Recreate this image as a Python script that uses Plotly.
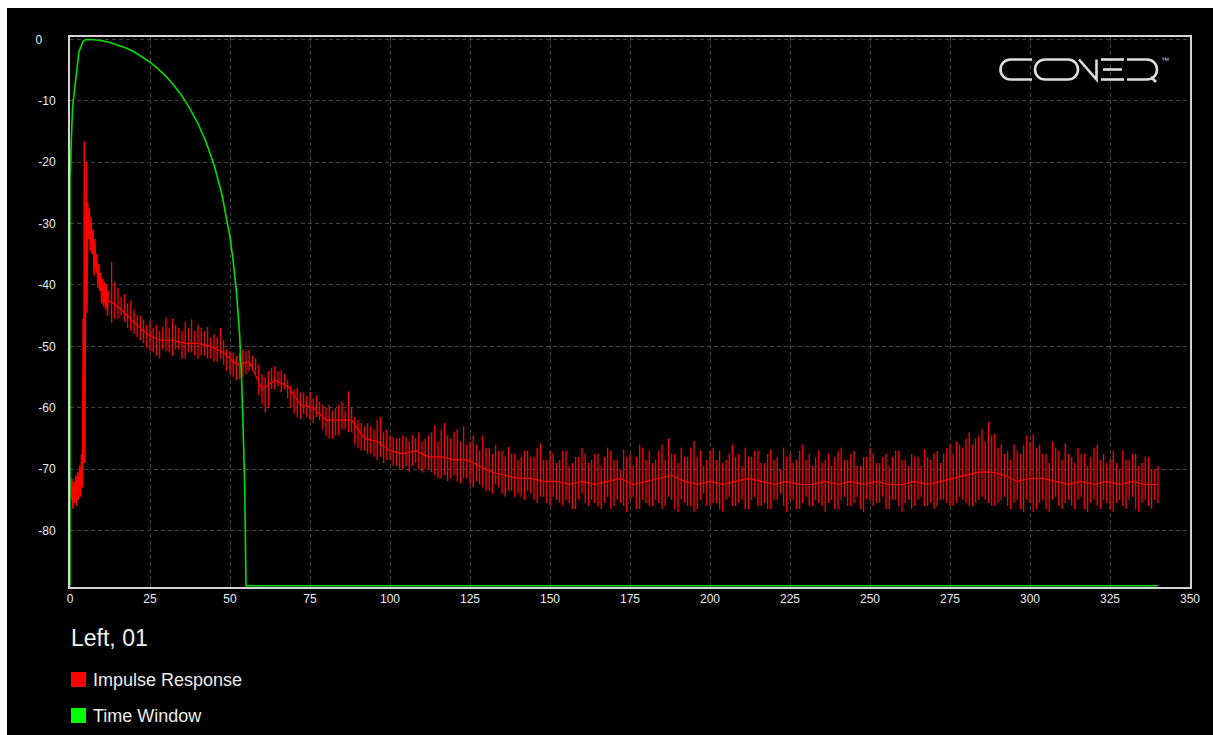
import plotly.graph_objects as go

# ---- Time window (green), time in ms / level in dB ----
window_ms = [0.0, 0.0, 0.8, 2.0, 2.8, 4.1, 5.0, 7.5, 10.0, 12.5, 15.0, 17.5, 20.0, 22.5,
             25.0, 27.5, 30.0, 32.5, 35.0, 37.5, 40.0, 42.5, 45.0, 47.5, 50.0, 51.0,
             52.0, 53.0, 53.6, 54.2, 54.6, 55.0, 340.0]
window_db = [-89.0, -22.5, -11.0, -5.4, -2.0, -0.3, 0.0, -0.05, -0.2, -0.5, -0.9, -1.4,
             -2.0, -2.8, -3.7, -4.8, -6.0, -7.5, -9.2, -11.3, -13.7, -16.7, -20.4, -25.3,
             -32.2, -36.1, -41.0, -48.0, -55.0, -65.0, -73.0, -89.0, -89.0]

# ---- Impulse response (red): onset region, explicit sample times ----
onset_ms = [0.0, 0.3, 0.6, 0.9, 1.2, 1.5, 1.8, 2.1, 2.4, 2.7, 3.0, 3.3, 3.6, 3.9, 4.1, 4.3,
            4.45, 4.65, 4.85, 5.2, 5.35, 5.55, 5.8, 6.05, 6.3, 6.6, 6.9, 7.2, 7.5, 7.8,
            8.1, 8.4, 8.7, 9.0, 9.3, 9.6, 9.9, 10.2, 10.5, 10.8, 11.1, 11.4, 11.7, 12.0]
onset_db = [-70.5, -75.0, -71.5, -76.5, -72.0, -75.5, -71.0, -76.0, -70.5, -75.0, -69.5,
            -74.5, -67.5, -73.0, -45.5, -69.0, -16.6, -69.0, -44.0, -20.0, -44.5, -26.5,
            -32.5, -27.5, -34.5, -29.0, -35.0, -31.0, -38.5, -32.5, -38.0, -35.0, -40.5,
            -36.5, -41.0, -38.0, -43.0, -39.0, -43.5, -39.5, -44.0, -40.0, -45.0, -41.0]

# ---- Impulse response tail: per-ms peak (hi) and trough (lo), 13 ms .. 340 ms ----
tail_start_ms = 13
tail_hi_db = [
    -36.2, -39.5, -40.5, -42.0, -41.5, -43.0, -42.5, -44.0, -44.9, -45.0,   # 13-22
    -45.6, -46.5, -45.8, -47.0, -46.5, -47.5, -46.8, -45.3, -47.0, -45.5,   # 23-32
    -46.5, -47.0, -47.5, -46.0, -47.0, -45.6, -47.5, -46.5, -47.0, -47.5,   # 33-42
    -46.8, -48.5, -48.0, -48.5, -47.0, -49.0, -50.5, -50.8, -51.0, -51.5,   # 43-52
    -51.0, -50.5, -50.8, -50.5, -51.5, -52.0, -53.0, -54.5, -55.0, -54.0,   # 53-62
    -53.5, -53.2, -54.0, -53.8, -54.5, -55.5, -56.4, -57.0, -56.8, -57.5,   # 63-72
    -57.5, -58.0, -57.4, -58.5, -58.0, -59.0, -59.5, -60.0, -59.5, -60.5,   # 73-82
    -60.0, -59.5, -59.0, -60.5, -57.3, -60.0, -61.5, -62.0, -62.5, -63.0,   # 83-92
    -62.5, -63.0, -63.5, -62.0, -61.5, -64.0, -63.5, -64.5, -64.8, -65.0,   # 93-102
    -65.0, -64.5, -64.8, -65.5, -64.5, -65.0, -64.0, -65.5, -65.0, -64.5,   # 103-112
    -64.0, -62.8, -65.5, -63.5, -62.5, -64.5, -65.0, -64.0, -63.5, -65.5,   # 113-122
    -63.0, -66.0, -65.5, -64.5, -66.0, -67.0, -64.5, -66.5, -66.5, -67.5,   # 123-132
    -66.0, -67.0, -67.0, -68.0, -66.4, -67.5, -67.5, -68.5, -68.0, -67.0,   # 133-142
    -67.0, -68.0, -68.0, -66.5, -65.8, -68.5, -68.5, -67.0, -67.5, -69.0,   # 143-152
    -68.5, -67.0, -67.0, -69.5, -69.0, -68.0, -68.0, -66.5, -67.5, -69.0,   # 153-162
    -68.5, -67.5, -67.5, -69.5, -68.0, -66.5, -67.0, -68.5, -68.5, -70.0,   # 163-172
    -66.8, -68.0, -67.5, -69.5, -68.0, -66.0, -66.5, -68.5, -67.0, -69.0,   # 173-182
    -68.5, -67.0, -66.0, -68.5, -65.0, -67.5, -67.5, -69.0, -66.5, -68.0,   # 183-192
    -68.0, -66.5, -65.4, -68.0, -67.0, -69.5, -68.5, -67.0, -66.5, -68.5,   # 193-202
    -67.0, -69.0, -68.5, -67.5, -66.0, -68.0, -67.5, -69.5, -66.5, -68.0,   # 203-212
    -68.0, -67.0, -67.0, -69.0, -69.0, -67.5, -66.8, -68.5, -68.0, -70.0,   # 213-222
    -66.5, -68.0, -67.5, -69.0, -68.5, -67.0, -66.0, -68.5, -67.5, -69.5,   # 223-232
    -68.0, -67.0, -69.0, -68.5, -67.5, -69.5, -68.0, -67.0, -66.5, -68.5,   # 233-242
    -68.5, -67.5, -67.0, -69.5, -69.5, -68.0, -68.0, -66.5, -67.5, -69.0,   # 243-252
    -69.0, -68.0, -67.5, -69.5, -68.0, -67.0, -67.0, -68.5, -68.5, -69.5,   # 253-262
    -67.5, -68.0, -68.0, -69.5, -66.8, -68.0, -68.5, -67.5, -67.0, -69.0,   # 263-272
    -67.5, -66.5, -66.0, -67.5, -65.5, -66.0, -66.5, -65.0, -64.0, -66.0,   # 273-282
    -65.0, -64.5, -63.5, -65.5, -62.3, -64.5, -64.2, -66.5, -66.0, -67.5,   # 283-292
    -67.0, -68.5, -66.0, -67.0, -67.5, -66.0, -64.5, -65.5, -64.3, -66.5,   # 293-302
    -66.0, -67.5, -67.5, -69.0, -65.5, -66.5, -67.0, -68.5, -65.8, -67.5,   # 303-312
    -68.0, -69.0, -66.5, -67.5, -67.5, -69.5, -68.0, -66.5, -66.0, -68.5,   # 313-322
    -67.5, -69.0, -68.5, -67.0, -69.0, -70.0, -67.0, -68.5, -68.5, -67.5,   # 323-332
    -67.5, -69.5, -69.0, -68.0, -68.0, -70.0, -70.0, -69.5,                 # 333-340
]
tail_lo_db = [
    -46.2, -45.5, -45.5, -45.0, -46.0, -47.0, -47.5, -48.0, -48.5, -49.0,   # 13-22
    -49.5, -50.3, -50.8, -51.0, -51.5, -52.0, -50.5, -50.8, -51.0, -51.5,   # 23-32
    -50.5, -50.5, -52.0, -52.0, -51.0, -51.0, -51.5, -52.0, -51.5, -51.5,   # 33-42
    -52.0, -52.0, -52.5, -52.5, -52.0, -53.0, -54.0, -54.5, -55.0, -55.5,   # 43-52
    -55.3, -55.0, -54.5, -54.0, -54.0, -54.5, -58.0, -59.5, -60.8, -60.0,   # 53-62
    -57.0, -57.0, -56.5, -57.5, -57.0, -58.5, -60.0, -61.0, -61.5, -61.8,   # 63-72
    -61.0, -61.5, -62.0, -62.5, -61.5, -62.0, -63.5, -64.5, -65.0, -65.0,   # 73-82
    -64.5, -64.5, -63.5, -63.5, -64.0, -64.0, -66.0, -66.5, -67.0, -67.0,   # 83-92
    -67.5, -67.5, -68.0, -68.5, -68.0, -69.0, -68.5, -68.5, -69.5, -69.5,   # 93-102
    -70.0, -70.0, -69.5, -70.5, -69.5, -69.0, -70.0, -70.6, -70.0, -70.0,   # 103-112
    -70.5, -71.0, -71.5, -71.5, -71.0, -72.0, -71.5, -71.0, -72.0, -72.3,   # 113-122
    -71.5, -71.5, -72.5, -73.0, -72.0, -72.5, -73.0, -73.5, -73.5, -74.0,   # 123-132
    -72.5, -73.0, -74.0, -74.5, -73.5, -73.5, -74.5, -74.0, -74.5, -75.0,   # 133-142
    -73.5, -74.0, -75.0, -75.5, -74.5, -74.5, -75.5, -76.0, -74.5, -75.0,   # 143-152
    -75.5, -76.0, -75.0, -75.5, -76.5, -76.5, -75.0, -74.0, -75.5, -76.0,   # 153-162
    -75.0, -75.5, -76.0, -76.5, -75.5, -74.5, -76.5, -76.0, -75.0, -75.5,   # 163-172
    -76.0, -77.0, -75.0, -74.5, -76.5, -76.5, -75.0, -75.5, -76.0, -76.0,   # 173-182
    -75.0, -75.5, -76.5, -76.0, -74.5, -75.0, -76.5, -77.0, -75.0, -75.5,   # 183-192
    -76.0, -76.0, -77.0, -76.5, -75.0, -74.0, -76.0, -76.0, -75.5, -75.5,   # 193-202
    -76.5, -77.0, -75.0, -74.5, -76.0, -76.0, -75.5, -75.0, -76.5, -76.5,   # 203-212
    -75.0, -74.5, -76.0, -76.0, -75.5, -76.5, -76.5, -75.0, -75.0, -74.0,   # 213-222
    -76.0, -77.0, -75.0, -75.0, -76.5, -76.5, -75.5, -74.5, -76.0, -76.0,   # 223-232
    -75.0, -75.5, -76.0, -77.0, -75.5, -75.0, -76.5, -76.5, -75.0, -74.5,   # 233-242
    -76.0, -76.0, -75.5, -74.5, -76.5, -77.0, -75.0, -75.0, -76.0, -75.5,   # 243-252
    -75.5, -74.5, -76.5, -76.5, -75.0, -75.0, -76.0, -77.0, -75.5, -75.0,   # 253-262
    -76.5, -76.0, -75.0, -74.5, -76.0, -76.0, -75.5, -76.5, -76.0, -75.0,   # 263-272
    -75.0, -75.5, -76.0, -76.0, -75.5, -74.5, -75.0, -75.5, -76.0, -76.0,   # 273-282
    -75.5, -75.0, -74.5, -75.0, -75.5, -76.0, -76.0, -75.5, -75.0, -74.5,   # 283-292
    -76.0, -76.5, -75.5, -75.0, -76.5, -77.0, -75.0, -75.5, -77.0, -76.5,   # 293-302
    -75.5, -75.0, -76.5, -77.0, -75.0, -74.5, -76.0, -76.5, -75.5, -75.0,   # 303-312
    -76.0, -76.5, -75.0, -74.5, -76.5, -77.0, -75.5, -75.0, -76.0, -76.5,   # 313-322
    -75.0, -75.5, -76.5, -77.0, -75.5, -75.0, -76.0, -76.5, -75.0, -74.5,   # 323-332
    -76.5, -77.0, -75.5, -75.0, -76.0, -76.5, -75.0, -75.5,                 # 333-340
]

# running level through the middle of the tail, every 4 ms from 12 ms
center_start_ms = 12
center_step_ms = 4
center_db = [
    -42.5, -44.0, -46.0, -48.0, -49.0, -49.0, -49.5, -49.5, -50.0, -51.0,
    -53.0, -52.5, -57.0, -55.5, -56.5, -59.5, -60.0, -62.0, -62.0, -62.0,
    -65.0, -65.5, -67.0, -67.5, -67.0, -68.0, -68.0, -68.5, -68.5, -69.5,
    -70.5, -71.0, -71.5, -71.5, -72.0, -72.0, -72.5, -72.0, -72.5, -72.0,
    -71.5, -72.5, -72.0, -71.5, -71.0, -72.0, -72.5, -72.0, -72.5, -72.0,
    -71.5, -72.0, -72.5, -72.0, -72.5, -72.5, -72.0, -72.5, -72.0, -72.5,
    -72.0, -72.5, -72.5, -72.0, -72.5, -72.0, -71.5, -71.0, -70.5, -70.5,
    -71.0, -72.0, -71.5, -71.5, -72.0, -72.5, -72.0, -72.5, -72.0, -72.5,
    -72.0, -72.5, -72.5,
]

# Axis ticks
x_ticks = [0, 25, 50, 75, 100, 125, 150, 175, 200, 225, 250, 275, 300, 325, 350]
y_ticks = [-80, -70, -60, -50, -40, -30, -20, -10, 0]
y_ticktext = ["-80", "-70", "-60", "-50", "-40", "-30", "-20", "-10", "0\u2007\u2007"]

# vertical peak-to-trough strokes, one per ms
stroke_x, stroke_y = [], []
for i, (hi, lo) in enumerate(zip(tail_hi_db, tail_lo_db)):
    t = tail_start_ms + i
    stroke_x += [t, t, None]
    stroke_y += [lo, hi, None]
center_ms = [center_start_ms + center_step_ms * i for i in range(len(center_db))]

# ---- page geometry (pixels) ----
W, H = 1213, 735
ML, MR, MT, MB = 70, 23, 37, 148
PW, PH = W - ML - MR, H - MT - MB


def px(x):
    return (x - ML) / PW


def py(y):
    return (MT + PH - y) / PH


def pt(x, y):
    return f"{px(x):.5f},{py(y):.5f}"


RED = "#ff0000"
fig = go.Figure()

fig.add_trace(go.Scatter(
    x=onset_ms, y=onset_db, mode="lines", name="Impulse Response",
    line=dict(color=RED, width=1.4), showlegend=False,
))
fig.add_trace(go.Scatter(
    x=stroke_x, y=stroke_y, mode="lines", name="Impulse Response",
    line=dict(color=RED, width=1.3), connectgaps=False, showlegend=False,
))
fig.add_trace(go.Scatter(
    x=center_ms, y=center_db, mode="lines", name="Impulse Response",
    line=dict(color=RED, width=1.2), showlegend=False,
))
fig.add_trace(go.Scatter(
    x=window_ms, y=window_db, mode="lines", name="Time Window",
    line=dict(color="#00e000", width=1.6), showlegend=False,
))

shapes = []
# black canvas leaving a thin white border at left and top
shapes.append(dict(type="rect", xref="paper", yref="paper",
                   x0=px(7), x1=px(W), y0=py(H), y1=py(8),
                   fillcolor="#000000", line=dict(width=0), layer="below"))

# CONEQ logo drawn as strokes
k = 0.5523
logo_line = dict(color="#dedede", width=2.6)
top, bot, mid, r = 59.5, 79.5, 69.5, 10.0


def left_round(xc):
    return (f" C {pt(xc - k * r, top)} {pt(xc - r, mid - k * r)} {pt(xc - r, mid)}"
            f" C {pt(xc - r, mid + k * r)} {pt(xc - k * r, bot)} {pt(xc, bot)}")


def right_round(xc):
    return (f" C {pt(xc + k * r, top)} {pt(xc + r, mid - k * r)} {pt(xc + r, mid)}"
            f" C {pt(xc + r, mid + k * r)} {pt(xc + k * r, bot)} {pt(xc, bot)}")


paths = []
paths.append(f"M {pt(1032, top)} L {pt(1010.5, top)}" + left_round(1010.5) + f" L {pt(1032, bot)}")
paths.append(f"M {pt(1045, top)} L {pt(1068, top)}" + right_round(1068) + f" L {pt(1045, bot)}"
             + f" C {pt(1045 - k * r, bot)} {pt(1035, mid + k * r)} {pt(1035, mid)}"
             + f" C {pt(1035, mid - k * r)} {pt(1045 - k * r, top)} {pt(1045, top)} Z")
paths.append(f"M {pt(1079, top)} L {pt(1096.5, bot)} L {pt(1096.5, top)}")
paths.append(f"M {pt(1101, top)} L {pt(1124, top)}")
paths.append(f"M {pt(1103, mid)} L {pt(1122, mid)}")
paths.append(f"M {pt(1101, bot)} L {pt(1124, bot)}")
paths.append(f"M {pt(1127, top)} L {pt(1147, top)}" + right_round(1147) + f" L {pt(1127, bot)}")
paths.append(f"M {pt(1151, 77)} L {pt(1156, 82)}")
for p in paths:
    shapes.append(dict(type="path", xref="paper", yref="paper", path=p, line=logo_line))

# legend swatches
shapes.append(dict(type="rect", xref="paper", yref="paper",
                   x0=px(71), x1=px(86), y0=py(687), y1=py(672),
                   fillcolor="#ff0000", line=dict(width=0)))
shapes.append(dict(type="rect", xref="paper", yref="paper",
                   x0=px(71), x1=px(86), y0=py(723), y1=py(708),
                   fillcolor="#00ff00", line=dict(width=0)))

font_family = "Liberation Sans, Arial, sans-serif"
annotations = [
    dict(text="Left, 01", x=px(69), y=py(638), xref="paper", yref="paper",
         xanchor="left", yanchor="middle", showarrow=False,
         font=dict(family=font_family, size=23, color="#f2f2f2")),
    dict(text="Impulse Response", x=px(91), y=py(680), xref="paper", yref="paper",
         xanchor="left", yanchor="middle", showarrow=False,
         font=dict(family=font_family, size=18, color="#ececec")),
    dict(text="Time Window", x=px(91), y=py(716), xref="paper", yref="paper",
         xanchor="left", yanchor="middle", showarrow=False,
         font=dict(family=font_family, size=18, color="#ececec")),
    dict(text="™", x=px(1159), y=py(61), xref="paper", yref="paper",
         xanchor="left", yanchor="middle", showarrow=False,
         font=dict(family=font_family, size=8, color="#cfcfcf")),
]

axis_common = dict(
    showgrid=True, gridcolor="#434343", gridwidth=1, griddash="4px,3px",
    showline=True, mirror=True, linecolor="#d4d4d4", linewidth=2,
    zeroline=False, ticks="", layer="below traces",
    tickfont=dict(family=font_family, size=12, color="#e8edf4"),
    fixedrange=True,
)

fig.update_layout(
    width=W, height=H,
    margin=dict(l=ML, r=MR, t=MT, b=MB, pad=0),
    paper_bgcolor="#ffffff", plot_bgcolor="#000000",
    showlegend=False,
    shapes=shapes, annotations=annotations,
    xaxis=dict(range=[0, 350], tickvals=x_ticks, ticklabelstandoff=0, **axis_common),
    yaxis=dict(range=[-89.2, 0.4], tickvals=y_ticks, ticktext=y_ticktext,
               ticklabelstandoff=10, **axis_common),
)

fig.write_html("out.html")
